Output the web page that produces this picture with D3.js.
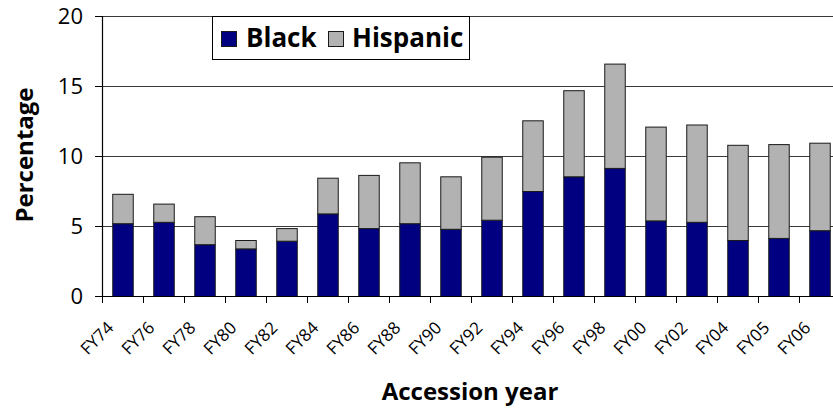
<!DOCTYPE html>
<html>
<head>
<meta charset="utf-8">
<script src="https://cdn.jsdelivr.net/npm/d3@7"></script>
<style>
  html, body { margin: 0; padding: 0; background: #fff; }
  svg { display: block; }
</style>
</head>
<body>
<svg id="chart" width="833" height="413"></svg>
<script>
// Data
const categories = ["FY74","FY76","FY78","FY80","FY82","FY84","FY86","FY88","FY90","FY92","FY94","FY96","FY98","FY00","FY02","FY04","FY05","FY06"];
const black    = [5.2, 5.3, 3.7, 3.4, 3.95, 5.9, 4.85, 5.2, 4.8, 5.45, 7.5, 8.55, 9.15, 5.4, 5.3, 4.0, 4.15, 4.7];
const hispanic = [2.1, 1.3, 2.0, 0.6, 0.9, 2.55, 3.8, 4.35, 3.75, 4.5, 5.05, 6.15, 7.45, 6.7, 6.95, 6.8, 6.7, 6.25];
const yTicks = [0, 5, 10, 15, 20];
const seriesNames = ["Black", "Hispanic"];
const seriesColors = ["#000080", "#b2b2b2"];

(function () {
const svg = d3.select("#chart");
const mLeft = 102, mTop = 16, mBottom = 296;
const step = 41;
const mRight = mLeft + step * categories.length;

const x = d3.scaleBand().domain(categories).range([mLeft, mRight]).paddingInner(0.5).paddingOuter(0.25);
const y = d3.scaleLinear().domain([0, 20]).range([mBottom, mTop]);

const font = "'Open Sans', sans-serif";

// gridlines
svg.append("g").selectAll("line").data(yTicks.filter(d => d > 0)).join("line")
  .attr("x1", mLeft).attr("x2", 833)
  .attr("y1", d => y(d) + 0.5).attr("y2", d => y(d) + 0.5)
  .attr("stroke", "#3a3a3a").attr("stroke-width", 1);

// stacked bars
const rows = categories.map((c, i) => ({cat: c, Black: black[i], Hispanic: hispanic[i]}));
const stack = d3.stack().keys(seriesNames)(rows);
svg.append("g").selectAll("g").data(stack).join("g")
  .attr("fill", (d, i) => seriesColors[i])
  .selectAll("rect").data(d => d).join("rect")
  .attr("x", d => x(d.data.cat) + 0.5)
  .attr("y", d => y(d[1]) + 0.5)
  .attr("width", x.bandwidth())
  .attr("height", d => y(d[0]) - y(d[1]))
  .attr("stroke", "#1a1a1a").attr("stroke-width", 1);

// y axis
svg.append("line").attr("x1", mLeft + 0.5).attr("x2", mLeft + 0.5).attr("y1", mTop).attr("y2", mBottom + 0.5)
  .attr("stroke", "#000").attr("stroke-width", 1.2);
svg.append("g").selectAll("line").data(yTicks).join("line")
  .attr("x1", mLeft - 7).attr("x2", mLeft)
  .attr("y1", d => y(d) + 0.5).attr("y2", d => y(d) + 0.5)
  .attr("stroke", "#000");
svg.append("g").selectAll("text").data(yTicks).join("text")
  .attr("x", 83).attr("y", d => y(d)).attr("dy", "0.36em")
  .attr("text-anchor", "end")
  .attr("font-family", font).attr("font-size", 22).attr("fill", "#000")
  .text(d => d);

// x axis
svg.append("line").attr("x1", mLeft).attr("x2", 833).attr("y1", mBottom + 0.5).attr("y2", mBottom + 0.5)
  .attr("stroke", "#000").attr("stroke-width", 1.2);
svg.append("g").selectAll("line").data(categories).join("line")
  .attr("x1", d => x(d) - x.step() * 0.25 + 0.5).attr("x2", d => x(d) - x.step() * 0.25 + 0.5)
  .attr("y1", mBottom).attr("y2", mBottom + 7)
  .attr("stroke", "#000");
svg.append("g").selectAll("text").data(categories).join("text")
  .attr("transform", d => `translate(${x(d) + x.bandwidth() / 2 - 8},${mBottom + 33}) rotate(-45)`)
  .attr("text-anchor", "end")
  .attr("font-family", font).attr("font-size", 17).attr("fill", "#000")
  .text(d => d);

// axis titles
svg.append("text").attr("transform", "translate(33,155) rotate(-90)")
  .attr("text-anchor", "middle").attr("font-family", font).attr("font-weight", "bold")
  .attr("font-size", 24).attr("fill", "#000").text("Percentage");
svg.append("text").attr("x", 470).attr("y", 400)
  .attr("text-anchor", "middle").attr("font-family", font).attr("font-weight", "bold")
  .attr("font-size", 24).attr("fill", "#000").text("Accession year");

// legend
const lg = svg.append("g");
lg.append("rect").attr("x", 212.5).attr("y", 16.5).attr("width", 257).attr("height", 43)
  .attr("fill", "#fff").attr("stroke", "#000").attr("stroke-width", 1);
const legendX = [221, 328];
const legendTextX = [246, 352];
seriesNames.forEach((name, i) => {
  lg.append("rect").attr("x", legendX[i] + 0.5).attr("y", 31.5).attr("width", 15).attr("height", 15)
    .attr("fill", seriesColors[i]).attr("stroke", "#1a1a1a");
  lg.append("text").attr("x", legendTextX[i]).attr("y", 47)
    .attr("font-family", font).attr("font-weight", "bold").attr("font-size", 26).attr("fill", "#000")
    .text(name);
});
})();
</script>
</body>
</html>
